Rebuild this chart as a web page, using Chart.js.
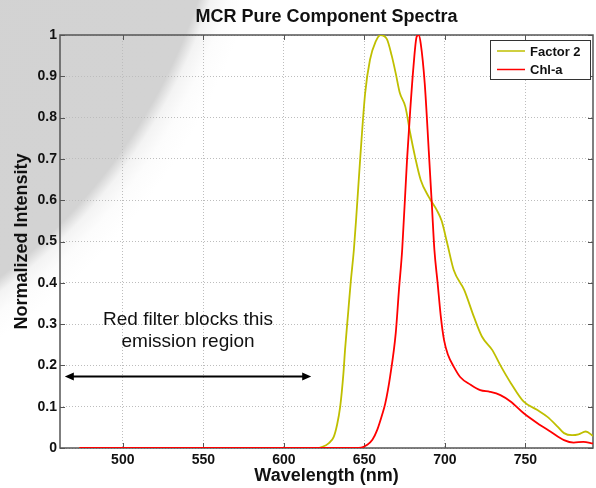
<!DOCTYPE html>
<html>
<head>
<meta charset="utf-8">
<script src="https://cdn.jsdelivr.net/npm/chart.js@4.4.1/dist/chart.umd.min.js"></script>
<style>
    html, body { margin: 0; padding: 0; background: #fff; }
    #wrap { width: 596px; height: 488px; }
</style>
</head>
<body>
<div id="wrap"><canvas id="spectraChart" width="596" height="488"></canvas></div>
<script>
// Series
const seriesNames = ['Factor 2', 'Chl-a'];
const seriesColors = ['#bfbf00', '#ff0000'];

const factor2Wavelength = [473, 600, 620, 624, 628, 631, 633, 635, 637, 638, 640, 641.5, 643.5, 645, 647.5, 650.5, 653.5, 657, 660, 664, 667, 669.5, 672, 675.5, 678.5, 681.5, 685, 690, 695, 698, 701.5, 705.5, 712, 718, 723, 729.5, 734.5, 741, 749, 757.5, 763.5, 770, 774, 779, 783, 787.5, 792];
const factor2Intensity = [0, 0, 0, 0.003, 0.012, 0.027, 0.055, 0.10, 0.18, 0.237, 0.33, 0.40, 0.48, 0.56, 0.705, 0.859, 0.94, 0.984, 1.0, 0.99, 0.95, 0.907, 0.86, 0.826, 0.762, 0.705, 0.649, 0.608, 0.576, 0.55, 0.495, 0.431, 0.383, 0.318, 0.27, 0.237, 0.20, 0.157, 0.112, 0.092, 0.076, 0.052, 0.036, 0.031, 0.033, 0.04, 0.029];

const chlWavelength = [473, 640, 648, 651.5, 655, 658, 661, 663, 666, 669.5, 671.5, 673.5, 676.5, 678.5, 680.5, 682.5, 683.7, 685, 687.5, 690, 692, 693.5, 695.5, 697.5, 699.5, 702, 705.5, 709.5, 716, 722, 728, 734.5, 741, 749, 757.5, 765.5, 774, 780, 786, 792];
const chlIntensity = [0, 0, 0.001, 0.007, 0.02, 0.044, 0.08, 0.108, 0.173, 0.278, 0.383, 0.48, 0.697, 0.818, 0.923, 0.996, 1.0, 0.98, 0.883, 0.72, 0.584, 0.48, 0.40, 0.318, 0.261, 0.225, 0.197, 0.172, 0.153, 0.14, 0.136, 0.128, 0.112, 0.084, 0.06, 0.04, 0.019, 0.013, 0.015, 0.011];

const xTickValues = [500, 550, 600, 650, 700, 750];
const xTickLabels = ['500', '550', '600', '650', '700', '750'];
const yTickValues = [0, 0.1, 0.2, 0.3, 0.4, 0.5, 0.6, 0.7, 0.8, 0.9, 1];
const yTickLabels = ['0', '0.1', '0.2', '0.3', '0.4', '0.5', '0.6', '0.7', '0.8', '0.9', '1'];

const chartTitle = 'MCR Pure Component Spectra';
const FONT = '"Liberation Sans", Arial, sans-serif';

function toPoints(xs, ys) {
    return xs.map((x, i) => ({ x: x, y: ys[i] }));
}

// Grey shading in the upper left corner of the picture
const backgroundPlugin = {
    id: 'backgroundShade',
    beforeDraw(chart) {
        const ctx = chart.ctx;
        ctx.save();
        ctx.fillStyle = '#ffffff';
        ctx.fillRect(0, 0, chart.width, chart.height);
        const r = 630;
        const grad = ctx.createRadialGradient(-352, -184, 0, -352, -184, r);
        grad.addColorStop(0, '#d2d2d2');
        grad.addColorStop(580 / r, '#d3d3d3');
        grad.addColorStop(592 / r, '#f3f3f3');
        grad.addColorStop(608 / r, '#fcfcfc');
        grad.addColorStop(1, '#ffffff');
        ctx.fillStyle = grad;
        ctx.fillRect(0, 0, chart.width, chart.height);
        ctx.restore();
    }
};

// MATLAB style box with inward ticks, title centred over the axes
const framePlugin = {
    id: 'axesFrame',
    beforeDatasetsDraw(chart) {
        const { ctx, chartArea: a, scales } = chart;
        ctx.save();
        ctx.strokeStyle = '#555555';
        ctx.lineWidth = 1.5;
        ctx.strokeRect(a.left, a.top, a.right - a.left, a.bottom - a.top);
        ctx.lineWidth = 1;
        ctx.beginPath();
        xTickValues.forEach(v => {
            const px = Math.round(scales.x.getPixelForValue(v)) + 0.5;
            ctx.moveTo(px, a.bottom); ctx.lineTo(px, a.bottom - 5);
            ctx.moveTo(px, a.top); ctx.lineTo(px, a.top + 5);
        });
        yTickValues.forEach(v => {
            const py = Math.round(scales.y.getPixelForValue(v)) + 0.5;
            ctx.moveTo(a.left, py); ctx.lineTo(a.left + 5, py);
            ctx.moveTo(a.right, py); ctx.lineTo(a.right - 5, py);
        });
        ctx.stroke();

        ctx.fillStyle = '#111111';
        ctx.font = 'bold 18px ' + FONT;
        ctx.textAlign = 'center';
        ctx.textBaseline = 'middle';
        ctx.fillText(chartTitle, (a.left + a.right) / 2, 17);
        ctx.restore();
    }
};

// Text note, arrow and the boxed legend
const overlayPlugin = {
    id: 'overlay',
    afterDraw(chart) {
        const { ctx, chartArea: a, scales } = chart;
        ctx.save();

        // note
        const noteX = scales.x.getPixelForValue(540.5);
        ctx.fillStyle = '#111111';
        ctx.font = '19px ' + FONT;
        ctx.textAlign = 'center';
        ctx.textBaseline = 'alphabetic';
        ctx.fillText('Red filter blocks this', noteX, scales.y.getPixelForValue(0.298));
        ctx.fillText('emission region', noteX, scales.y.getPixelForValue(0.245));

        // double headed arrow
        const ay = scales.y.getPixelForValue(0.173);
        const x1 = scales.x.getPixelForValue(464);
        const x2 = scales.x.getPixelForValue(617);
        ctx.strokeStyle = '#000000';
        ctx.fillStyle = '#000000';
        ctx.lineWidth = 2;
        ctx.beginPath();
        ctx.moveTo(x1 + 6, ay); ctx.lineTo(x2 - 6, ay);
        ctx.stroke();
        ctx.beginPath();
        ctx.moveTo(x1, ay); ctx.lineTo(x1 + 9, ay - 4); ctx.lineTo(x1 + 9, ay + 4); ctx.closePath();
        ctx.moveTo(x2, ay); ctx.lineTo(x2 - 9, ay - 4); ctx.lineTo(x2 - 9, ay + 4); ctx.closePath();
        ctx.fill();

        // legend
        const bw = 100, bh = 39;
        const bx = a.right - 3 - bw, by = a.top + 5;
        ctx.fillStyle = '#ffffff';
        ctx.fillRect(bx, by, bw, bh);
        ctx.strokeStyle = '#333333';
        ctx.lineWidth = 1;
        ctx.strokeRect(bx + 0.5, by + 0.5, bw, bh);
        ctx.font = 'bold 13px ' + FONT;
        ctx.textAlign = 'left';
        ctx.textBaseline = 'middle';
        seriesNames.forEach((name, i) => {
            const ly = by + 11 + i * 18.5;
            ctx.strokeStyle = seriesColors[i];
            ctx.lineWidth = 1.5;
            ctx.beginPath();
            ctx.moveTo(bx + 7, ly); ctx.lineTo(bx + 35, ly);
            ctx.stroke();
            ctx.fillStyle = '#111111';
            ctx.fillText(name, bx + 40, ly + 1);
        });
        ctx.restore();
    }
};

const ctx = document.getElementById('spectraChart').getContext('2d');
new Chart(ctx, {
    type: 'line',
    data: {
        datasets: [
            {
                label: seriesNames[0],
                data: toPoints(factor2Wavelength, factor2Intensity),
                borderColor: seriesColors[0],
                borderWidth: 1.8,
                pointRadius: 0,
                cubicInterpolationMode: 'monotone',
                order: 2
            },
            {
                label: seriesNames[1],
                data: toPoints(chlWavelength, chlIntensity),
                borderColor: seriesColors[1],
                borderWidth: 1.8,
                pointRadius: 0,
                cubicInterpolationMode: 'monotone',
                order: 1
            }
        ]
    },
    options: {
        responsive: false,
        animation: false,
        devicePixelRatio: 1,
        layout: { padding: { left: 0, right: 3, top: 35, bottom: 0 } },
        plugins: {
            legend: { display: false },
            tooltip: { enabled: false },
            title: { display: false }
        },
        scales: {
            x: {
                type: 'linear',
                min: 461,
                max: 792,
                afterFit(scale) { scale.height = 40; },
                afterBuildTicks(scale) { scale.ticks = xTickValues.map(v => ({ value: v })); },
                grid: { color: '#bdbdbd', drawTicks: false },
                border: { display: false, dash: [1, 2] },
                ticks: {
                    autoSkip: false,
                    maxRotation: 0,
                    padding: 4,
                    color: '#111111',
                    font: { family: FONT, size: 14, weight: 'bold' },
                    callback: (v, i) => xTickLabels[i]
                },
                title: {
                    display: true,
                    text: 'Wavelength (nm)',
                    color: '#111111',
                    font: { family: FONT, size: 18, weight: 'bold' },
                    padding: { top: 0, bottom: 1 }
                }
            },
            y: {
                min: 0,
                max: 1,
                afterFit(scale) { scale.width = 60; },
                afterBuildTicks(scale) { scale.ticks = yTickValues.map(v => ({ value: v })); },
                grid: { color: '#bdbdbd', drawTicks: false },
                border: { display: false, dash: [1, 2] },
                ticks: {
                    padding: 3,
                    color: '#111111',
                    font: { family: FONT, size: 14, weight: 'bold' },
                    callback: (v, i) => yTickLabels[i]
                },
                title: {
                    display: true,
                    text: 'Normalized Intensity',
                    color: '#111111',
                    font: { family: FONT, size: 18, weight: 'bold' },
                    padding: { top: 11, bottom: 0 }
                }
            }
        }
    },
    plugins: [backgroundPlugin, framePlugin, overlayPlugin]
});
</script>
</body>
</html>
